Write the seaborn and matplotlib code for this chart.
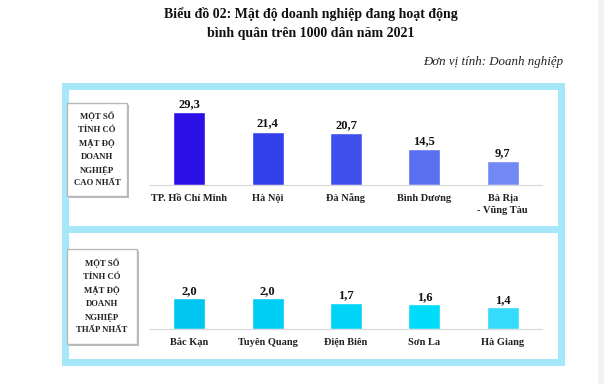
import matplotlib
matplotlib.use("Agg")
import matplotlib.pyplot as plt
import matplotlib.patches as mpatches
import matplotlib.patheffects as pe
import matplotlib.transforms as mtrans
import seaborn as sns
import pandas as pd
import numpy as np

# ---- data ----
top_provinces = ["TP. Hồ Chí Minh", "Hà Nội", "Đà Nẵng", "Bình Dương", "Bà Rịa\n- Vũng Tàu"]
top_values = [29.3, 21.4, 20.7, 14.5, 9.7]
top_labels = ["29,3", "21,4", "20,7", "14,5", "9,7"]
top_colors = ["#2A10E6", "#3140E8", "#4050EC", "#5A70F0", "#7288F4"]

bottom_provinces = ["Bắc Kạn", "Tuyên Quang", "Điện Biên", "Sơn La", "Hà Giang"]
bottom_values = [2.0, 2.0, 1.7, 1.6, 1.4]
bottom_labels = ["2,0", "2,0", "1,7", "1,6", "1,4"]
bottom_colors = ["#00C6F0", "#00CDF4", "#00D4F8", "#00DCFA", "#36DAFA"]

title_lines = ["Biểu đồ 02: Mật độ doanh nghiệp đang hoạt động",
               "bình quân trên 1000 dân năm 2021"]
unit_text = "Đơn vị tính: Doanh nghiệp"
top_box_text = "MỘT SỐ\nTỈNH CÓ\nMẬT ĐỘ\nDOANH\nNGHIỆP\nCAO NHẤT"
bottom_box_text = "MỘT SỐ\nTỈNH CÓ\nMẬT ĐỘ\nDOANH\nNGHIỆP\nTHẤP NHẤT"

sns.set_theme(style="white")
plt.rcParams["font.family"] = ["Liberation Serif", "DejaVu Serif"]

W, H = 604, 384
fig = plt.figure(figsize=(W / 100, H / 100), dpi=100)
fig.patch.set_facecolor("white")


def fx(px):
    return px / W


def fy(py):
    return 1 - py / H


# faint gray strip at far right
fig.patches.append(mpatches.Rectangle((fx(598), 0), fx(6), 1, transform=fig.transFigure,
                                      facecolor="#F3F3F3", edgecolor="none", zorder=0))

# cyan frames (sharing the middle band)
frame_col = "#A6E8F9"
lw = 7 * 72 / 100
for (x0, y0, x1, y1) in [(64.5, 85.5, 560.5, 229), (64.5, 229, 560.5, 361.5)]:
    fig.patches.append(mpatches.Rectangle((fx(x0), fy(y1)), fx(x1 - x0), (y1 - y0) / H,
                                          transform=fig.transFigure, facecolor="white",
                                          edgecolor=frame_col, linewidth=lw, zorder=1,
                                          joinstyle="miter"))

# title
fig.text(fx(311), fy(14), title_lines[0], ha="center", va="center", fontsize=10,
         fontweight="bold", color="#111111")
fig.text(fx(311), fy(33), title_lines[1], ha="center", va="center", fontsize=10,
         fontweight="bold", color="#111111")
fig.text(fx(563), fy(62), unit_text, ha="right", va="center", fontsize=9.3,
         fontstyle="italic", color="#222222")

# label boxes
for (x0, y0, x1, y1, txt) in [(67, 103, 127, 196, top_box_text), (67, 249, 137, 344, bottom_box_text)]:
    r = mpatches.Rectangle((fx(x0), fy(y1)), fx(x1 - x0), (y1 - y0) / H,
                           transform=fig.transFigure, facecolor="white",
                           edgecolor="#B8B8B8", linewidth=1.0, zorder=3,
                           path_effects=[pe.SimplePatchShadow(offset=(1.5, -1.5), shadow_rgbFace="#AAAAAA", alpha=0.8),
                                         pe.Normal()])
    fig.patches.append(r)
    fig.text(fx((x0 + x1) / 2), fy((y0 + y1) / 2), txt, ha="center", va="center",
             fontsize=6.3, fontweight="bold", color="#222222", linespacing=1.75, zorder=4)


def draw_panel(rect, cats, vals, labels, colors, ymax, label_fs):
    ax = fig.add_axes(rect)
    ax.set_facecolor("none")
    df = pd.DataFrame({"prov": cats, "val": vals})
    sns.barplot(data=df, x="prov", y="val", hue="prov", palette=colors, width=0.41,
                legend=False, ax=ax, saturation=1)
    ax.set_ylim(0, ymax)
    ax.set_xlim(-0.5, len(cats) - 0.5)
    ax.set_xlabel("")
    ax.set_ylabel("")
    ax.set_yticks([])
    for s in ["top", "right", "left"]:
        ax.spines[s].set_visible(False)
    ax.spines["bottom"].set_color("#D8D8D8")
    ax.spines["bottom"].set_linewidth(0.8)
    ax.set_xticks(range(len(cats)))
    ax.set_xticklabels([""] * len(cats))
    ax.tick_params(axis="x", which="major", length=0)
    ax.set_xticks(np.arange(-0.5, len(cats), 1.0), minor=True)
    ax.tick_params(axis="x", which="minor", length=3, color="#D8D8D8", width=0.8)
    # category labels aligned on baseline, one line at a time
    base = mtrans.blended_transform_factory(ax.transData, ax.transAxes)
    for i, c in enumerate(cats):
        for k, line in enumerate(c.split("\n")):
            off = -(16 + 12 * k) / 100
            tr = base + mtrans.ScaledTranslation(0, off, fig.dpi_scale_trans)
            ax.text(i, 0, line, transform=tr, ha="center", va="baseline", fontsize=7.5,
                    fontweight="bold", color="#222222", clip_on=False)
    for i, (v, lab) in enumerate(zip(vals, labels)):
        ax.text(i, v + ymax * 0.025, lab, ha="center", va="bottom", fontsize=label_fs,
                fontweight="bold", color="#111111")
    ax.set_zorder(5)
    return ax


# top panel: baseline y=185 px, 2.49 px per unit
top_ymax = 34
top_h = top_ymax * 2.49
draw_panel([fx(150), fy(185), fx(392), top_h / H], top_provinces, top_values, top_labels,
           top_colors, top_ymax, 9)

# bottom panel: baseline y=329 px, 15.5 px per unit
bot_ymax = 2.6
bot_h = bot_ymax * 15.5
draw_panel([fx(150), fy(329), fx(392), bot_h / H], bottom_provinces, bottom_values, bottom_labels,
           bottom_colors, bot_ymax, 9)

fig.savefig("out.png", dpi=100, facecolor="white")
